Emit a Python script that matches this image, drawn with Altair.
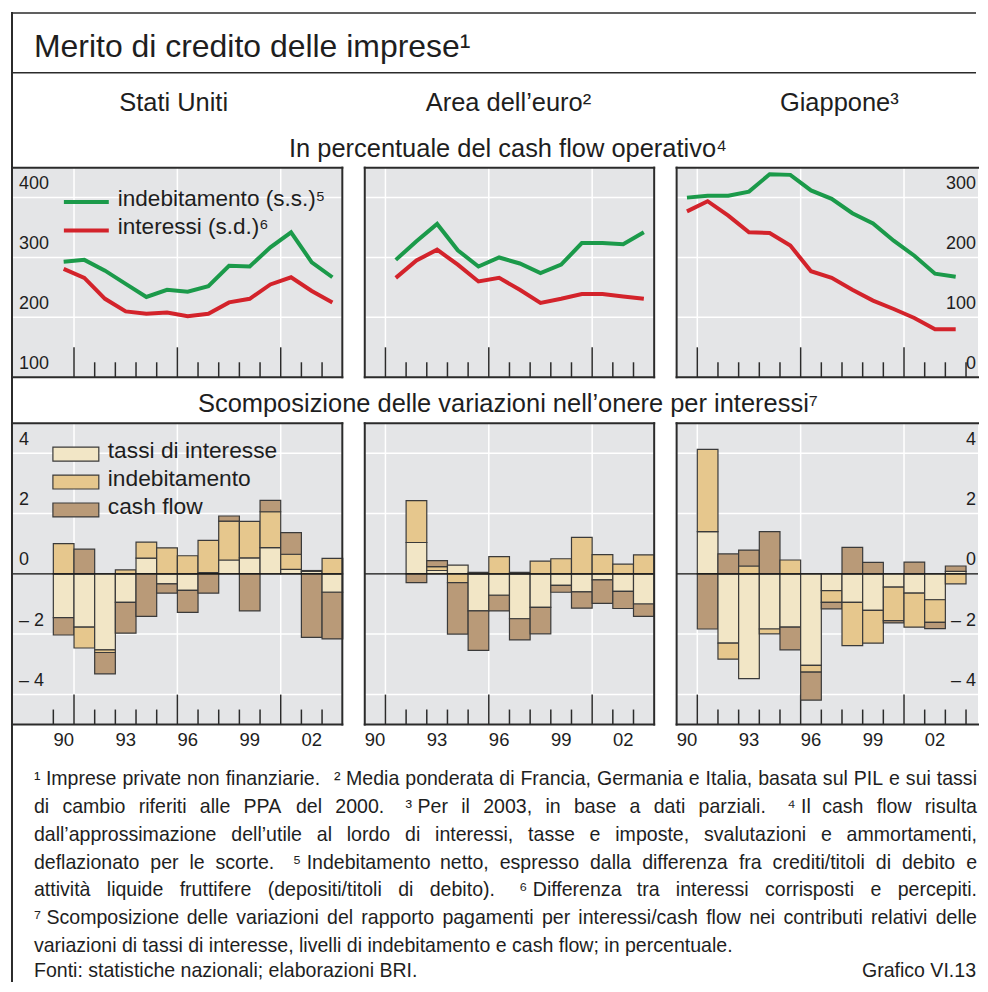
import altair as alt
import pandas as pd

FONT = "Liberation Sans"
TEXT = "#1e1e1e"
BG = "#e4e5e7"
BORDER = "#2b2b2b"
GRID = "#ffffff"
TICK = "#2b2b2b"
GREEN = "#1b9a4a"
RED = "#d3232b"
C_TASSI = "#f2e6c6"
C_INDEB = "#e6c78d"
C_CASH = "#b99a78"
BAR_STROKE = "#3a3a3a"

# ---------------- data: upper panels (in % of operating cash flow) ----------------
us_years = list(range(1990, 2004))
us_indebitamento = [293, 296, 278, 256, 234, 246, 243, 252, 286, 285, 317, 342, 292, 267]
us_interessi = [181, 166, 131, 110, 106, 108, 102, 106, 125, 131, 155, 167, 144, 125]

ea_years = list(range(1991, 2004))
ea_indebitamento = [296, 327, 356, 312, 285, 300, 290, 274, 288, 324, 324, 322, 342]
ea_interessi = [166, 195, 213, 188, 160, 166, 146, 124, 131, 139, 139, 135, 131]

jp_years = list(range(1990, 2004))
jp_indebitamento = [400, 403, 403, 410, 439, 438, 412, 398, 374, 357, 328, 303, 273, 268]
jp_interessi = [277, 294, 270, 242, 241, 220, 177, 166, 146, 128, 114, 99, 80, 80]

# ---------------- data: lower panels (contributions, percentage points) ----------------
components = ["tassi di interesse", "indebitamento", "cash flow"]

us_bar_years = list(range(1990, 2004))
us_tassi = [-1.45, -1.77, -2.52, -0.95, 0.52, -0.33, -0.55, 0.04, 0.46, 0.53, 0.87, 0.15, 0.08, -0.61]
us_indeb = [1.00, -0.69, -0.09, 0.13, 0.53, 0.86, 0.60, 1.07, 1.29, 1.21, 1.19, 0.50, 0.03, 0.51]
us_cash = [-0.58, 0.82, -0.71, -1.02, -1.41, -0.31, -0.73, -0.64, 0.17, -1.23, 0.38, 0.72, -2.11, -1.55]

ea_bar_years = list(range(1992, 2004))
ea_tassi = [1.04, 0.11, 0.29, -1.23, -0.71, -1.49, -1.11, -0.38, -0.60, -0.20, -0.58, -1.00]
ea_indeb = [1.39, 0.13, -0.29, 0.05, 0.57, 0.05, 0.42, 0.50, 1.21, 0.64, 0.32, 0.63]
ea_cash = [-0.29, 0.20, -1.71, -1.31, -0.52, -0.70, -0.88, -0.23, -0.54, -0.78, -0.57, -0.41]

jp_bar_years = list(range(1991, 2004))
jp_tassi = [1.40, -2.30, -3.48, -1.83, -1.77, -3.04, -0.56, -0.95, -1.21, -0.44, -0.64, -0.86, 0.08]
jp_indeb = [2.73, -0.53, 0.26, -0.16, 0.46, -0.22, -0.39, -1.43, -1.09, -1.11, -1.13, -0.75, -0.33]
jp_cash = [-1.83, 0.66, 0.53, 1.40, -0.75, -0.93, -0.21, 0.88, 0.38, -0.08, 0.39, -0.21, 0.18]

# ---------------- axes / labels ----------------
year_labels = [1990, 1993, 1996, 1999, 2002]
grid_years = [1991, 1996, 2001]
top_grid = [200, 300, 400]
top_labels = [100, 200, 300, 400]
bottom_grid = [-4, -2, 2, 4]
bottom_labels = [-4, -2, 0, 2, 4]
legend_top = ["indebitamento (s.s.)⁵", "interessi (s.d.)⁶"]

footnotes_justified = [
    "¹\u00a0Imprese private non finanziarie.  ²\u00a0Media ponderata di Francia, Germania e Italia, basata sul PIL e sui tassi",
    "di cambio riferiti alle PPA del 2000.  ³\u00a0Per il 2003, in base a dati parziali.  ⁴\u00a0Il cash flow risulta",
    "dall’approssimazione dell’utile al lordo di interessi, tasse e imposte, svalutazioni e ammortamenti,",
    "deflazionato per le scorte.  ⁵\u00a0Indebitamento netto, espresso dalla differenza fra crediti/titoli di debito e",
    "attività liquide fruttifere (depositi/titoli di debito).  ⁶\u00a0Differenza tra interessi corrisposti e percepiti.",
    "⁷\u00a0Scomposizione delle variazioni del rapporto pagamenti per interessi/cash flow nei contributi relativi delle",
]
footnote_last = "variazioni di tassi di interesse, livelli di indebitamento e cash flow; in percentuale."
source_text = "Fonti: statistiche nazionali; elaborazioni BRI."
chart_id = "Grafico VI.13"

# ---------------- geometry ----------------
UNIT = 290 / 14
HT, HB = 210, 302
W1, W2, W3 = 331, 290, 302
FULLW = W1 + W2 + W3 + 45
H_HEAD, H_MID, H_FOOT = 159, 46, 258
ONE = alt.Data(values=[{}])


def xsc(start, w):
    return alt.Scale(domain=[start, start + w / UNIT], nice=False, zero=False)


YT = alt.Scale(domain=[100, 100 + HT / 0.6], nice=False, zero=False)
YB = alt.Scale(domain=[-5, 5], nice=False, zero=False)


def fmt(v):
    return f"– {abs(v)}" if v < 0 else f"{v}"


def hrule(x1, x2, y, color=BORDER, sw=2.0, cap="square"):
    return alt.Chart(ONE).mark_rule(color=color, strokeWidth=sw, strokeCap=cap).encode(
        x=alt.value(x1), x2=alt.value(x2), y=alt.value(y))


def vrule(x, y1, y2, color=BORDER, sw=2.0):
    return alt.Chart(ONE).mark_rule(color=color, strokeWidth=sw, strokeCap="square").encode(
        x=alt.value(x), y=alt.value(y1), y2=alt.value(y2))


def txt(x, y, s, size, align="left", baseline="alphabetic"):
    return alt.Chart(ONE).mark_text(text=s, align=align, baseline=baseline, fontSize=size,
                                    font=FONT, color=TEXT).encode(x=alt.value(x), y=alt.value(y))


def empty(w, h):
    return alt.Chart(ONE).mark_text(text="", baseline="top").encode(
        x=alt.value(1), y=alt.value(h / 2)).properties(width=w, height=h)


def hgrid(vals, ys):
    return alt.Chart(pd.DataFrame({"v": vals})).mark_rule(color=GRID, strokeWidth=1.5).encode(
        y=alt.Y("v:Q", scale=ys, axis=None))


def vgrid(xs):
    return alt.Chart(pd.DataFrame({"yr": grid_years})).mark_rule(color=GRID, strokeWidth=1.5).encode(
        x=alt.X("yr:Q", scale=xs, axis=None))


def tick_layers(years, xs, h):
    major = [y for y in years if y in grid_years]
    minor = [y for y in years if y not in grid_years]
    out = []
    for ys_, ln in ((major, 30), (minor, 15)):
        out.append(alt.Chart(pd.DataFrame({"yr": ys_})).mark_rule(color=TICK, strokeWidth=1.5).encode(
            x=alt.X("yr:Q", scale=xs, axis=None), y=alt.value(h - ln), y2=alt.value(h)))
    return out


def ylab(vals, texts, ys, x, align):
    df = pd.DataFrame({"v": vals, "t": texts})
    return alt.Chart(df).mark_text(align=align, baseline="alphabetic", dy=-8.5, fontSize=18,
                                   font=FONT, color=TEXT).encode(
        x=alt.value(x), y=alt.Y("v:Q", scale=ys, axis=None), text="t:N")


def xlab(xs, h):
    df = pd.DataFrame({"yr": year_labels, "t": [str(y)[2:] for y in year_labels]})
    return alt.Chart(df).transform_calculate(xm="datum.yr + 0.5").mark_text(
        baseline="alphabetic", fontSize=18.5, font=FONT, color=TEXT).encode(
        x=alt.X("xm:Q", scale=xs, axis=None), y=alt.value(h + 22), text="t:N")


def border(w, h, right=True):
    out = [hrule(0, w, 0), hrule(0, w, h), vrule(0, 0, h)]
    if right:
        out.append(vrule(w, 0, h))
    return out


def line_layers(years, indeb, inter, xs):
    df = pd.DataFrame({"year": years, "indebitamento": indeb, "interessi": inter})
    base = alt.Chart(df).transform_calculate(xm="datum.year + 0.5", ir="datum.interessi + 100")
    r = base.mark_line(color=RED, strokeWidth=4).encode(
        x=alt.X("xm:Q", scale=xs, axis=None), y=alt.Y("ir:Q", scale=YT, axis=None))
    g = base.mark_line(color=GREEN, strokeWidth=4).encode(
        x=alt.X("xm:Q", scale=xs, axis=None), y=alt.Y("indebitamento:Q", scale=YT, axis=None))
    return [r, g]


def bar_layer(years, t, i, c, xs):
    rows = []
    for k, y in enumerate(years):
        for order, vals in enumerate((t, i, c)):
            rows.append({"year": y, "end": y + 1, "comp": components[order], "order": order,
                         "value": vals[k]})
    df = pd.DataFrame(rows)
    return alt.Chart(df).transform_stack(
        stack="value", groupby=["year"], as_=["y0", "y1"],
        sort=[alt.SortField("order", order="ascending")]).mark_rect(
        stroke=BAR_STROKE, strokeWidth=1.2).encode(
        x=alt.X("year:Q", scale=xs, axis=None), x2="end:Q",
        y=alt.Y("y0:Q", scale=YB, axis=None), y2="y1:Q",
        color=alt.Color("comp:N", scale=alt.Scale(domain=components,
                                                  range=[C_TASSI, C_INDEB, C_CASH]), legend=None))


def top_panel(start, w, years, indeb, inter, tick_years, side):
    xs = xsc(start, w)
    layers = [hgrid(top_grid, YT), vgrid(xs)] + tick_layers(tick_years, xs, HT)
    layers += line_layers(years, indeb, inter, xs)
    if side == "left":
        layers.append(ylab(top_labels, [str(v) for v in top_labels], YT, 7, "left"))
        for k, (lab, col) in enumerate(zip(legend_top, [GREEN, RED])):
            yy = 34.5 + 28.5 * k
            layers.append(hrule(52, 97, yy, color=col, sw=4, cap="butt"))
            layers.append(txt(106, yy - 3.5, lab, 22.6, baseline="middle"))
        layers += border(w, HT)
    elif side == "right":
        layers.append(ylab(top_labels, [str(v - 100) for v in top_labels], YT, w - 2, "right"))
        layers += border(w, HT, right=False)
    else:
        layers += border(w, HT)
    return alt.layer(*layers).properties(width=w, height=HT,
                                         view=alt.ViewBackground(fill=BG, stroke=BG, strokeWidth=0))


def bottom_panel(start, w, years, t, i, c, tick_years, side):
    xs = xsc(start, w)
    layers = [hgrid(bottom_grid, YB), vgrid(xs)] + tick_layers(tick_years, xs, HB)
    layers.append(bar_layer(years, t, i, c, xs))
    layers.append(alt.Chart(pd.DataFrame({"v": [0]})).mark_rule(color="#111111", strokeWidth=1.2).encode(
        y=alt.Y("v:Q", scale=YB, axis=None)))
    if side == "left":
        layers.append(ylab(bottom_labels, [fmt(v) for v in bottom_labels], YB, 7, "left"))
        for k, (lab, col) in enumerate(zip(components, [C_TASSI, C_INDEB, C_CASH])):
            y0 = 24 + 28 * k
            layers.append(alt.Chart(ONE).mark_rect(fill=col, stroke=BAR_STROKE, strokeWidth=1.2).encode(
                x=alt.value(41), x2=alt.value(87), y=alt.value(y0), y2=alt.value(y0 + 14)))
            layers.append(txt(96, y0 + 7 - 3, lab, 22.8, baseline="middle"))
        layers += border(w, HB)
    elif side == "right":
        layers.append(ylab(bottom_labels, [fmt(v) for v in bottom_labels], YB, w - 2, "right"))
        layers += border(w, HB, right=False)
    else:
        layers += border(w, HB)
    layers.append(xlab(xs, HB))
    return alt.layer(*layers).properties(width=w, height=HB,
                                         view=alt.ViewBackground(fill=BG, stroke=BG, strokeWidth=0))


# ---------------- header pieces ----------------
head1 = alt.layer(
    hrule(0, FULLW - 2, 4, sw=1.5, cap="butt"),
    vrule(0, 4, H_HEAD, sw=2),
    hrule(0, FULLW - 2, 64, sw=1.5, cap="butt"),
    txt(22, 48, "Merito di credito delle imprese¹", 32),
    txt(162, 102, "Stati Uniti", 25.5, align="center"),
    txt(497, 148, "In percentuale del cash flow operativo⁴", 25.5, align="center"),
).properties(width=W1, height=H_HEAD)
head2 = txt(144, 102, "Area dell’euro²", 25.5, align="center").properties(width=W2, height=H_HEAD)
head3 = txt(163, 102, "Giappone³", 25.5, align="center").properties(width=W3, height=H_HEAD)

# ---------------- middle band ----------------
mid1 = alt.layer(
    vrule(0, 0, H_MID, sw=2),
    txt(497, 35, "Scomposizione delle variazioni nell’onere per interessi⁷", 25.5, align="center"),
).properties(width=W1, height=H_MID)

# ---------------- footer: justified footnotes ----------------
AW = {" ": 278, "\u00a0": 278, "!": 278, "(": 333, ")": 333, ",": 278, "-": 333, ".": 278,
      "/": 278, ":": 278, ";": 278, "’": 222, "à": 556, "¹": 333, "²": 333, "³": 333,
      "⁴": 333, "⁵": 333, "⁶": 333, "⁷": 333}
for d in "0123456789":
    AW[d] = 556
AW.update(dict(zip("ABCDEFGHIJKLMNOPQRSTUVWXYZ",
                   [667, 667, 722, 722, 667, 611, 778, 722, 278, 500, 667, 556, 833, 722, 778,
                    667, 778, 722, 667, 611, 722, 667, 944, 667, 667, 611])))
AW.update(dict(zip("abcdefghijklmnopqrstuvwxyz",
                   [556, 556, 500, 556, 556, 278, 556, 556, 222, 222, 500, 222, 833, 556, 556,
                    556, 556, 333, 500, 278, 556, 500, 722, 500, 500, 500])))

FN = 19.6
FX0, FX1 = 22, FULLW - 1
FY0, FDY = 61, 27.8


def tw(s):
    return sum(AW.get(ch, 556) for ch in s) * FN / 1000


word_rows = []
for li, line in enumerate(footnotes_justified):
    words, seps, pending = [], [], False
    for tok in line.split(" "):
        if tok == "":
            pending = True
            continue
        if words:
            seps.append(pending)
        words.append(tok)
        pending = False
    widths = [tw(w) for w in words]
    extra = 8.0
    gap = (FX1 - FX0 - sum(widths) - extra * sum(seps)) / len(seps)
    x = FX0
    for k, w in enumerate(words):
        word_rows.append({"x": x, "y": FY0 + FDY * li, "t": w})
        x += widths[k]
        if k < len(seps):
            x += gap + (extra if seps[k] else 0)

words_df = pd.DataFrame(word_rows)
foot_words = alt.Chart(words_df).mark_text(align="left", baseline="alphabetic", fontSize=FN,
                                           font=FONT, color=TEXT).encode(
    x=alt.X("x:Q", scale=None, axis=None), y=alt.Y("y:Q", scale=None, axis=None), text="t:N")

foot1 = alt.layer(
    vrule(0, 0, H_FOOT - 1, sw=2),
    foot_words,
    txt(FX0, FY0 + FDY * 6, footnote_last, FN),
    txt(FX0, H_FOOT - 5, source_text, FN),
    txt(FX1 - 1, H_FOOT - 5, chart_id, FN, align="right"),
).properties(width=W1, height=H_FOOT)

cells = [
    head1, head2, head3,
    top_panel(1988, W1, us_years, us_indebitamento, us_interessi, list(range(1991, 2004)), "left"),
    top_panel(1990, W2, ea_years, ea_indebitamento, ea_interessi, list(range(1991, 2004)), "mid"),
    top_panel(1990, W3, jp_years, jp_indebitamento, jp_interessi, list(range(1991, 2005)), "right"),
    mid1, empty(W2, H_MID), empty(W3, H_MID),
    bottom_panel(1988, W1, us_bar_years, us_tassi, us_indeb, us_cash, list(range(1990, 2004)), "left"),
    bottom_panel(1990, W2, ea_bar_years, ea_tassi, ea_indeb, ea_cash, list(range(1991, 2004)), "mid"),
    bottom_panel(1990, W3, jp_bar_years, jp_tassi, jp_indeb, jp_cash, list(range(1991, 2005)), "right"),
    foot1, empty(W2, H_FOOT), empty(W3, H_FOOT),
]

chart = alt.concat(*cells, columns=3, spacing={"row": 0, "column": 22.5}, bounds="flush").properties(
    padding={"left": 2, "top": 0, "right": 0, "bottom": 0}, background="white"
).configure(font=FONT).configure_view(strokeWidth=0)

chart.save("out.html", embed_options={"renderer": "svg", "actions": False})
